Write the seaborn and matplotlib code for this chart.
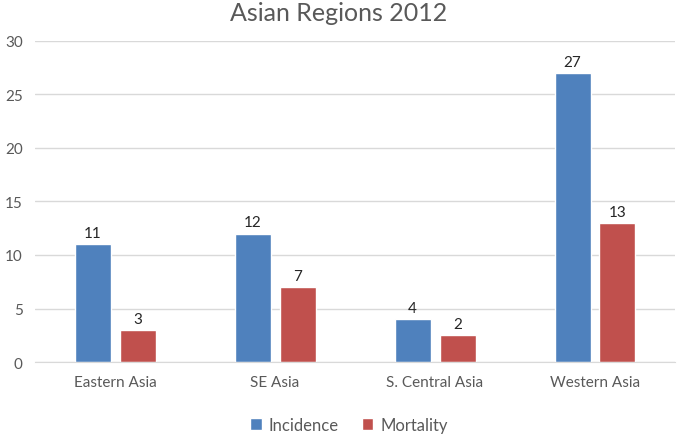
import seaborn as sns
import matplotlib.pyplot as plt
import pandas as pd

regions = ['Eastern Asia', 'SE Asia', 'S. Central Asia', 'Western Asia']
incidence = [11, 12, 4, 27]
mortality = [3, 7, 2.5, 13]
series = ['Incidence', 'Mortality']
colors = ['#4F81BD', '#C0504D']

df = pd.DataFrame({
    'region': regions * 2,
    'value': incidence + mortality,
    'series': [series[0]] * 4 + [series[1]] * 4,
})

sns.set_style('white')
plt.rcParams['font.family'] = ['Lato', 'DejaVu Sans']

fig = plt.figure(figsize=(6.77, 4.35), dpi=100)
ax = fig.add_axes([0.052, 0.1655, 0.945, 0.738])

sns.barplot(data=df, x='region', y='value', hue='series', palette=colors,
            saturation=1, width=0.5625, gap=0.2, ax=ax, legend=True)

for c in ax.containers:
    ax.bar_label(c, fmt='%.0f', padding=3, fontsize=11, color='#262626')

ax.set_ylim(0, 30)
ax.set_yticks(range(0, 31, 5))
ax.set_xlim(-0.5, 3.5)
ax.grid(axis='y', color='#D9D9D9', linewidth=1)
ax.set_axisbelow(True)
for s in ['top', 'right', 'left']:
    ax.spines[s].set_visible(False)
ax.spines['bottom'].set_color('#D9D9D9')
ax.tick_params(axis='both', length=0, labelsize=11, colors='#595959', pad=9)
ax.set_xlabel('')
ax.set_ylabel('')

fig.suptitle('Asian Regions 2012', y=0.995, fontsize=18, color='#595959')

ax.legend(loc='upper center', bbox_to_anchor=(0.49, -0.125), ncol=2, frameon=False,
          fontsize=12, labelcolor='#595959', handlelength=0.7, handleheight=0.7,
          handletextpad=0.4, columnspacing=1.4)

fig.savefig('out.png', dpi=100)
